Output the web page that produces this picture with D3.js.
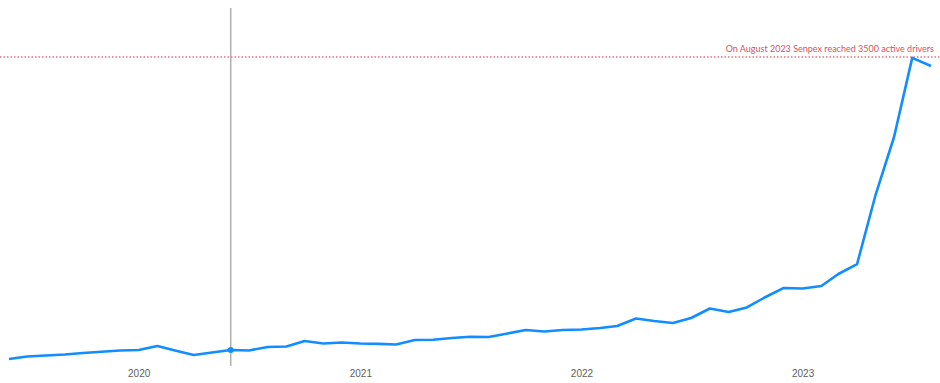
<!DOCTYPE html>
<html>
<head>
<meta charset="utf-8">
<script src="https://cdn.jsdelivr.net/npm/d3@7"></script>
<style>
  body { margin: 0; background: #fff; }
  svg { display: block; font-family: "Segoe UI", Lato, "Open Sans", sans-serif; }
</style>
</head>
<body>
<svg id="chart" width="940" height="383"></svg>
<script>
// monthly active drivers, June 2019 .. August 2023
const months = d3.timeMonths(new Date(2019, 5, 1), new Date(2023, 8, 1));
const drivers = [
  79, 108, 119, 130, 147, 162, 176, 181, 227, 176,
  125, 153, 181, 176, 215, 221, 283, 255, 266, 255,
  251, 244, 295, 298, 317, 332, 328, 368, 408, 391,
  408, 413, 430, 453, 538, 510, 487, 544, 651, 612,
  663, 782, 884, 878, 906, 1042, 1155, 1926, 2594, 3490,
  3398
];
const yearTicks = [new Date(2020, 0, 1), new Date(2021, 0, 1), new Date(2022, 0, 1), new Date(2023, 0, 1)];
const target = 3500;
const targetLabel = "On August 2023 Senpex reached 3500 active drivers";
const selected = new Date(2020, 5, 1);

const data = months.map((d, i) => ({ date: d, value: drivers[i] }));

const svg = d3.select("#chart");
const width = 940;

const x = d3.scaleTime()
  .domain(d3.extent(months))
  .range([9, 931]);

const y = d3.scaleLinear()
  .domain([0, target])
  .range([366, 57]);

// x axis, labels only
const xAxis = svg.append("g")
  .attr("transform", "translate(0, 368)")
  .call(d3.axisBottom(x).tickValues(yearTicks).tickFormat(d3.timeFormat("%Y")).tickSize(0).tickPadding(2));
xAxis.select(".domain").remove();
xAxis.selectAll("text")
  .attr("fill", "#605e5c")
  .style("font-size", "10px");

// target line
svg.append("line")
  .attr("x1", 0)
  .attr("x2", width)
  .attr("y1", y(target))
  .attr("y2", y(target))
  .attr("stroke", "#e3707a")
  .attr("stroke-width", 1.5)
  .attr("stroke-dasharray", "1.5 2");

svg.append("text")
  .attr("x", 934)
  .attr("y", y(target) - 5)
  .attr("text-anchor", "end")
  .attr("fill", "#d9515c")
  .style("font-size", "9px")
  .text(targetLabel);

// selected month marker line
svg.append("line")
  .attr("x1", x(selected))
  .attr("x2", x(selected))
  .attr("y1", 8)
  .attr("y2", 366)
  .attr("stroke", "#b0b0b0")
  .attr("stroke-width", 1.5);

const line = d3.line()
  .x(d => x(d.date))
  .y(d => y(d.value));

svg.append("path")
  .datum(data)
  .attr("fill", "none")
  .attr("stroke", "#118dff")
  .attr("stroke-width", 2.6)
  .attr("stroke-linejoin", "round")
  .attr("d", line);

const sel = data.find(d => +d.date === +selected);
svg.append("circle")
  .attr("cx", x(sel.date))
  .attr("cy", y(sel.value))
  .attr("r", 3)
  .attr("fill", "#118dff");
</script>
</body>
</html>
